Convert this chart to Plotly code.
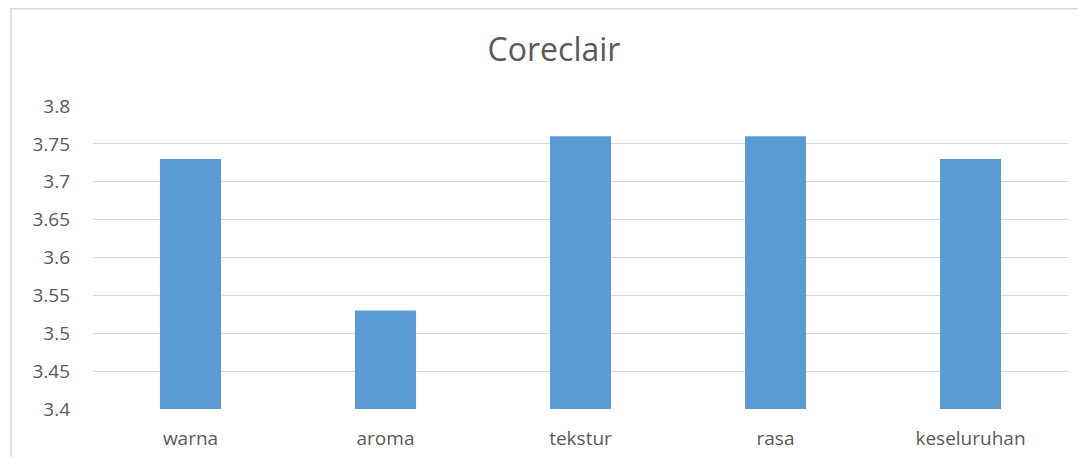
import plotly.graph_objects as go

categories = ["warna", "aroma", "tekstur", "rasa", "keseluruhan"]
values = [3.73, 3.53, 3.76, 3.76, 3.73]
tick_vals = [3.4, 3.45, 3.5, 3.55, 3.6, 3.65, 3.7, 3.75, 3.8]
tick_text = ["3.4", "3.45", "3.5", "3.55", "3.6", "3.65", "3.7", "3.75", "3.8"]

W, H = 1070, 449
ml, mr, mt, mb = 85, 10, 98, 48
pw = W - ml - mr
ph = H - mt - mb

fig = go.Figure(go.Bar(x=categories, y=values, marker_color="#5B9BD5", marker_line_width=0))

fig.update_layout(
    width=W, height=H,
    margin=dict(l=ml, r=mr, t=mt, b=mb),
    paper_bgcolor="white", plot_bgcolor="white",
    bargap=0.687,
    showlegend=False,
    font=dict(family="Open Sans, Noto Sans, sans-serif", color="#595959", size=19),
    title=dict(text="Coreclair", x=546 / W, xanchor="center", y=1 - 42 / H, yanchor="middle",
               font=dict(size=32, color="#595959")),
    xaxis=dict(showgrid=False, ticks="", tickfont=dict(size=19), showline=False,
               ticklabelstandoff=16, automargin=False),
    yaxis=dict(range=[3.4, 3.8], tickvals=tick_vals, ticktext=tick_text, showgrid=True,
               gridcolor="#d9d9d9", gridwidth=1, zeroline=False, ticks="", ticklabelstandoff=22,
               tickfont=dict(size=19), showline=False, automargin=False),
    shapes=[
        dict(type="rect", xref="paper", yref="paper",
             x0=(3 - ml) / pw, x1=1 + 40 / pw,
             y0=-(mb + 20) / ph, y1=1 + (mt - 0.8) / ph,
             line=dict(color="#d9d9d9", width=1.6), fillcolor="rgba(0,0,0,0)", layer="below"),
    ],
)

fig.write_html("out.html")
